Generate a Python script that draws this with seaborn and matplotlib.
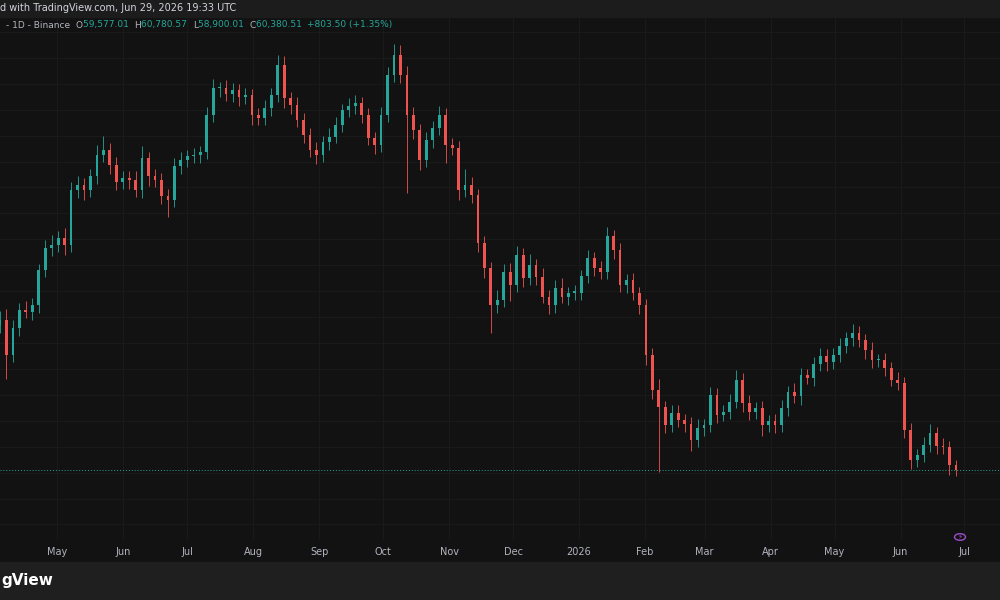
import numpy as np
import pandas as pd
import matplotlib
matplotlib.use("Agg")
import matplotlib.pyplot as plt
import matplotlib.dates as mdates
import seaborn as sns

# Closes (thousand USD), 3-day candles, Apr 2025 - Jun 2026
closes = [83.5,78.1,82.3,85.1,84.8,85.8,91.2,94.6,95.1,96.2,
          95.1,103.6,104.4,103.6,105.7,109.0,109.8,107.4,104.8,105.4,
          105.1,103.6,108.5,105.7,105.1,102.7,102.0,107.3,108.2,108.8,
          109.0,109.4,115.2,119.3,119.3,118.4,119.0,117.9,118.2,115.2,
          114.7,116.2,118.2,122.9,117.8,116.7,114.4,112.1,109.8,109.0,
          111.0,111.8,113.6,115.9,116.5,117.0,115.2,111.6,110.5,115.2,
          121.3,124.4,121.3,115.2,112.8,108.2,111.3,113.1,115.2,110.5,
          110.1,103.6,104.4,102.8,95.4,91.5,85.8,86.6,90.9,88.9,
          93.5,90.0,92.0,90.2,87.1,85.8,88.5,87.1,87.7,87.7,
          90.3,93.1,91.5,90.9,96.5,94.3,88.9,89.7,87.7,85.8,
          78.1,72.7,70.1,67.3,69.2,68.1,67.5,65.0,66.9,67.3,
          72.0,68.9,69.3,70.9,74.3,70.7,69.3,69.9,67.3,67.9,
          67.3,69.9,72.4,71.8,75.0,74.6,76.7,78.0,77.0,78.1,
          79.5,80.7,81.5,80.4,78.9,77.3,77.3,76.1,74.3,73.8,
          66.5,61.9,62.7,64.2,66.1,64.1,63.9,61.2,60.38]
first_open = 82.8
upper_wick = [1.5,1.8,1.2,1.0,1.4,1.2,1.0,1.3,1.6,1.1,
              1.5,1.2,1.3,1.0,1.2,1.6,2.2,1.0,1.3,1.1,
              1.2,1.4,1.9,1.0,1.2,1.1,1.0,1.2,1.3,1.0,
              1.1,1.0,1.2,1.5,1.0,1.3,1.1,1.0,1.2,1.0,
              1.1,1.3,1.2,1.6,1.4,1.0,1.3,1.1,1.0,1.2,
              1.0,1.4,1.2,1.0,1.3,1.2,1.0,1.1,1.0,1.2,
              1.3,1.8,1.5,1.4,1.2,1.0,1.3,1.1,1.4,1.0,
              1.2,1.0,2.5,1.2,1.0,1.1,1.0,1.6,1.3,1.5,
              1.4,1.2,1.8,1.0,1.3,1.1,1.2,1.5,1.0,1.2,
              1.0,1.3,1.0,1.2,1.4,1.0,1.2,1.0,1.1,1.0,
              1.0,1.2,1.8,1.0,1.2,1.3,1.0,1.1,1.4,1.0,
              1.2,1.0,1.1,1.3,1.5,1.0,1.2,1.0,1.1,1.0,
              1.2,1.3,1.0,1.4,1.1,1.0,1.2,1.3,1.0,1.1,
              1.2,1.0,1.4,1.1,1.0,1.2,1.0,1.1,1.0,1.2,
              1.0,1.1,1.0,1.3,1.4,1.0,1.2,1.0,0.8]
lower_wick = [1.2,3.6,1.0,1.2,1.0,1.3,1.1,1.0,1.2,1.0,
              1.5,1.1,1.3,1.6,1.0,1.2,1.0,1.4,1.2,1.0,
              1.3,1.0,1.2,1.5,1.1,1.3,2.6,1.0,1.2,1.1,
              1.0,1.2,1.0,1.1,1.3,1.0,1.2,1.4,1.0,1.5,
              1.1,1.0,1.2,1.0,1.6,1.3,1.0,1.2,1.1,1.4,
              1.0,1.2,1.0,1.1,1.0,1.2,1.3,1.1,1.4,1.0,
              1.1,1.0,1.2,12.0,1.3,1.5,1.0,1.2,1.0,2.8,
              1.1,1.5,1.0,1.2,1.3,1.4,4.3,1.2,1.0,2.5,
              1.0,1.4,1.1,1.2,1.0,1.3,1.1,1.0,1.2,1.0,
              1.1,1.0,1.2,1.1,1.0,1.3,1.0,1.2,1.1,1.3,
              1.5,1.4,10.0,1.2,1.0,1.1,1.3,1.6,1.0,1.2,
              1.0,1.3,1.0,1.1,1.0,1.4,1.2,1.0,1.6,1.1,
              1.2,1.0,1.1,1.0,1.3,1.0,1.2,1.0,1.4,1.0,
              1.1,1.0,1.2,1.0,1.3,1.1,1.0,1.2,1.0,1.1,
              1.2,1.4,1.0,1.1,1.0,1.2,1.0,1.6,0.9]
month_ticks = ["2025-05-01","2025-06-01","2025-07-01","2025-08-01","2025-09-01","2025-10-01",
               "2025-11-01","2025-12-01","2026-01-01","2026-02-01","2026-03-01","2026-04-01",
               "2026-05-01","2026-06-01","2026-07-01"]
month_labels = ["May","Jun","Jul","Aug","Sep","Oct","Nov","Dec","2026","Feb","Mar","Apr","May","Jun","Jul"]
last_close = 60.38

dates = pd.date_range("2025-04-04", "2026-06-27", periods=len(closes))
opens = [first_open] + closes[:-1]
df = pd.DataFrame({"date": dates, "open": opens, "close": closes})
df["high"] = np.maximum(df.open, df.close) + np.array(upper_wick)
df["low"] = np.minimum(df.open, df.close) - np.array(lower_wick)
df["up"] = df.close >= df.open

BG = "#121212"
UP = "#26a69a"
DN = "#ef5350"
sns.set_style("dark", {"axes.facecolor": BG, "figure.facecolor": BG})
plt.rcParams['font.family'] = ['DejaVu Sans']

fig = plt.figure(figsize=(10, 6), dpi=100, facecolor=BG)
ax = fig.add_axes([0, 0.1, 1, 0.8717])
ax.set_facecolor(BG)

for up, col in [(True, UP), (False, DN)]:
    d = df[df.up == up]
    ax.vlines(d.date, d.low, d.high, color=col, linewidth=0.6, zorder=3)
    ax.bar(d.date, (d.close - d.open).abs().clip(lower=0.25), bottom=np.minimum(d.open, d.close),
           width=1.3, color=col, edgecolor=col, linewidth=0, zorder=4)

ax.axhline(last_close, color=UP, linestyle=(0, (1, 2)), linewidth=0.7, zorder=2)

x0 = pd.Timestamp("2025-04-04")
ax.set_xlim(mdates.date2num(x0), mdates.date2num(x0) + 1000 / 2.129)
ax.set_ylim(49.6, 130.3)
ax.set_yticks(np.arange(52, 130, 4))
ax.set_xticks(pd.to_datetime(month_ticks))
ax.set_xticklabels([])
ax.set_yticklabels([])
ax.grid(True, color="#1b1b1b", linewidth=0.7)
ax.tick_params(length=0)
for s in ax.spines.values():
    s.set_visible(False)

for t, lab in zip(pd.to_datetime(month_ticks), month_labels):
    xf = (mdates.date2num(t) - mdates.date2num(x0)) * 2.129 / 1000
    fig.text(xf, 1 - 552 / 600, lab, color="#b2b5be", fontsize=7, ha="center", va="center")

# top bar
fig.patches.append(plt.Rectangle((0, 1 - 17 / 600), 1, 17 / 600, transform=fig.transFigure,
                                 color="#1c1c1c", zorder=5))
fig.text(0.0, 1 - 8 / 600, "d with TradingView.com, Jun 29, 2026 19:33 UTC", color="#d1d4dc",
         fontsize=7, va="center", zorder=6)
# header OHLC
parts = [("- 1D - Binance  ", "#b2b5be"), ("O", "#b2b5be"), ("59,577.01  ", UP), ("H", "#b2b5be"),
         ("60,780.57  ", UP), ("L", "#b2b5be"), ("58,900.01  ", UP), ("C", "#b2b5be"),
         ("60,380.51  ", UP), ("+803.50 (+1.35%)", UP)]
fig.canvas.draw()
r = fig.canvas.get_renderer()
xp = 6
for txt, col in parts:
    t = fig.text(xp / 1000, 1 - 25 / 600, txt, color=col, fontsize=6.5, va="center")
    xp += t.get_window_extent(r).width

# bottom bar
fig.patches.append(plt.Rectangle((0, 0), 1, 38 / 600, transform=fig.transFigure, color="#1f1f1f", zorder=5))
fig.patches.append(plt.Rectangle((0, 38 / 600), 1, 22 / 600, transform=fig.transFigure, color=BG, zorder=1))
fig.text(0.001, 20 / 600, "gView", color="white", fontsize=11, fontweight="bold",
         ha="left", va="center", zorder=6)
# icon
fig.patches.append(matplotlib.patches.Circle((960 / 1000, 1 - 537 / 600), 0.0055, transform=fig.transFigure,
                                             fill=False, edgecolor="#9c4dcc", linewidth=1, zorder=6))
fig.text(960 / 1000, 1 - 537 / 600, "⚡", color="#9c4dcc", fontsize=5, ha="center", va="center", zorder=7)

fig.savefig("out.png", dpi=100, facecolor=BG)
